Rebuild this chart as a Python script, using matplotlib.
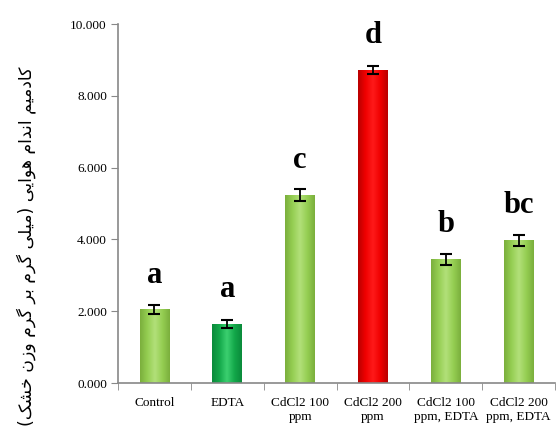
import numpy as np
import matplotlib
matplotlib.use("Agg")
import matplotlib.pyplot as plt
from matplotlib.colors import LinearSegmentedColormap

categories = ["Control", "EDTA", "CdCl2 100\nppm", "CdCl2 200\nppm",
              "CdCl2 100\nppm, EDTA", "CdCl2 200\nppm, EDTA"]
values = [2.05, 1.65, 5.24, 8.72, 3.45, 3.98]
errors = [0.12, 0.12, 0.16, 0.11, 0.15, 0.15]
letters = ["a", "a", "c", "d", "b", "bc"]
bar_colors = ["light", "dark", "light", "red", "light", "light"]
yticks = [0, 2, 4, 6, 8, 10]
ylabel = "کادمیم اندام هوایی (میلی گرم بر گرم وزن خشک)"

# --- minimal Arabic/Persian shaping (presentation forms, visual order) ---
FORMS = {  # iso, fin, init, med  (None => right-joining only)
    "ک": ("\uFB8E", "\uFB8F", "\uFB90", "\uFB91"),
    "گ": ("\uFB92", "\uFB93", "\uFB94", "\uFB95"),
    "ی": ("\uFBFC", "\uFBFD", "\uFBFE", "\uFBFF"),
    "ا": ("\uFE8D", "\uFE8E", None, None),
    "د": ("\uFEA9", "\uFEAA", None, None),
    "ر": ("\uFEAD", "\uFEAE", None, None),
    "ز": ("\uFEAF", "\uFEB0", None, None),
    "و": ("\uFEED", "\uFEEE", None, None),
    "م": ("\uFEE1", "\uFEE2", "\uFEE3", "\uFEE4"),
    "ن": ("\uFEE5", "\uFEE6", "\uFEE7", "\uFEE8"),
    "ه": ("\uFEE9", "\uFEEA", "\uFEEB", "\uFEEC"),
    "ل": ("\uFEDD", "\uFEDE", "\uFEDF", "\uFEE0"),
    "ب": ("\uFE8F", "\uFE90", "\uFE91", "\uFE92"),
    "خ": ("\uFEA5", "\uFEA6", "\uFEA7", "\uFEA8"),
    "ش": ("\uFEB5", "\uFEB6", "\uFEB7", "\uFEB8"),
}


def shape(text):
    out = []
    n = len(text)
    for i, ch in enumerate(text):
        if ch not in FORMS:
            out.append(ch)
            continue
        f = FORMS[ch]
        prev = text[i - 1] if i > 0 else None
        nxt = text[i + 1] if i < n - 1 else None
        join_prev = prev in FORMS and FORMS[prev][2] is not None
        join_next = nxt in FORMS and f[2] is not None
        if join_prev and join_next:
            out.append(f[3])
        elif join_prev:
            out.append(f[1])
        elif join_next:
            out.append(f[2])
        else:
            out.append(f[0])
    vis = "".join(out)[::-1]
    return vis.translate(str.maketrans("()", ")("))


plt.rcParams["font.family"] = ["Liberation Serif", "DejaVu Serif"]

fig = plt.figure(figsize=(5.58, 4.32), dpi=100)
ax = fig.add_axes([0.2115, 0.1134, 0.7835, 0.8306])

cmaps = {
    "light": LinearSegmentedColormap.from_list(
        "l", ["#7AAE3C", "#95CE52", "#B2E07A", "#95CE52", "#7AAE3C"]),
    "dark": LinearSegmentedColormap.from_list(
        "d", ["#0A8A3A", "#13A84A", "#3CD070", "#13A84A", "#0A8A3A"]),
    "red": LinearSegmentedColormap.from_list(
        "r", ["#B80000", "#F00000", "#FF1A1A", "#F00000", "#B80000"]),
}

x = np.arange(len(categories))
width = 0.41
bars = ax.bar(x, values, width=width, color="none", edgecolor="none", zorder=2)
grad = np.linspace(0, 1, 256).reshape(1, -1)
for b, c in zip(bars, bar_colors):
    x0, y0 = b.get_x(), b.get_y()
    w, h = b.get_width(), b.get_height()
    im = ax.imshow(grad, cmap=cmaps[c], aspect="auto",
                   extent=[x0, x0 + w, y0, y0 + h], zorder=2,
                   interpolation="bicubic")
    im.set_clip_path(b)

ax.errorbar(x, values, yerr=errors, fmt="none", ecolor="black",
            elinewidth=1.3, capsize=4, capthick=1.5, zorder=3)

for xi, v, lab in zip(x, values, letters):
    ax.text(xi, v + 0.75, lab, ha="center", va="baseline",
            fontsize=22, fontweight="bold", family="Liberation Serif")

ax.set_xlim(-0.5, len(categories) - 0.5)
ax.set_ylim(0, 10)
ax.set_yticks(yticks)
ax.set_yticklabels([f"{t:.3f}" for t in yticks], fontsize=9.5)
ax.set_xticks(x)
ax.set_xticklabels(categories, fontsize=9.5, linespacing=1.2)
ax.set_xticks(np.arange(len(categories) + 1) - 0.5, minor=True)
ax.tick_params(axis="x", which="major", length=0, pad=10)
ax.tick_params(axis="x", which="minor", length=5, color="#888888", direction="out")
ax.tick_params(axis="y", length=5, color="#888888", direction="out", pad=3)

for s in ["top", "right"]:
    ax.spines[s].set_visible(False)
for s in ["left", "bottom"]:
    ax.spines[s].set_color("#888888")
    ax.spines[s].set_linewidth(1.2)

fig.text(26 / 558, 1 - 66 / 432, shape(ylabel), rotation=90, ha="center",
         va="top", fontsize=12.5, family=["DejaVu Sans"])

fig.savefig("out.png", dpi=100)
